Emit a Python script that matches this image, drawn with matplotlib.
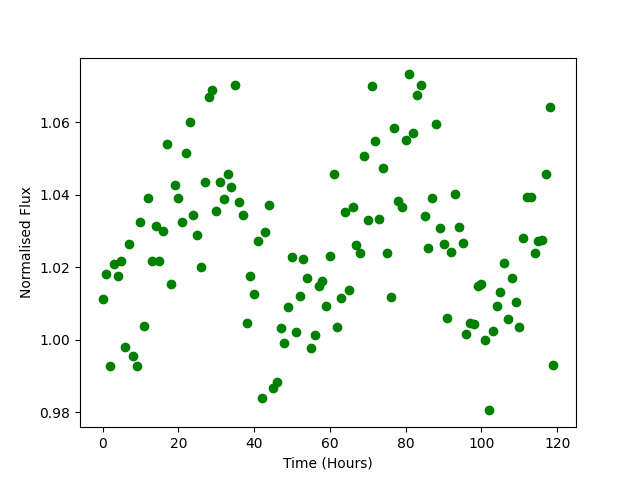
import numpy as np
import matplotlib
matplotlib.use("Agg")
import matplotlib.pyplot as plt

# time in hours
hours = np.arange(120)

# normalised flux
flux = [
    1.0111, 1.0180, 0.9927, 1.0210, 1.0177, 1.0217, 0.9981, 1.0265, 0.9956, 0.9927,
    1.0326, 1.0039, 1.0392, 1.0217, 1.0313, 1.0217, 1.0301, 1.0541, 1.0153, 1.0428,
    1.0392, 1.0326, 1.0514, 1.0602, 1.0343, 1.0290, 1.0202, 1.0434, 1.0671, 1.0690,
    1.0354, 1.0434, 1.0387, 1.0456, 1.0420, 1.0704, 1.0381, 1.0345, 1.0045, 1.0177,
    1.0127, 1.0271, 0.9838, 1.0296, 1.0373, 0.9868, 0.9882, 1.0031, 0.9990, 1.0089,
    1.0227, 1.0020, 1.0122, 1.0224, 1.0169, 0.9976, 1.0014, 1.0148, 1.0163, 1.0094,
    1.0232, 1.0458, 1.0036, 1.0116, 1.0351, 1.0138, 1.0367, 1.0260, 1.0238, 1.0508,
    1.0329, 1.0701, 1.0547, 1.0334, 1.0475, 1.0238, 1.0119, 1.0585, 1.0384, 1.0367,
    1.0552, 1.0732, 1.0569, 1.0674, 1.0704, 1.0340, 1.0252, 1.0392, 1.0594, 1.0307,
    1.0265, 1.0061, 1.0243, 1.0401, 1.0312, 1.0268, 1.0017, 1.0045, 1.0042, 1.0147,
    1.0155, 0.9998, 0.9805, 1.0023, 1.0092, 1.0133, 1.0213, 1.0056, 1.0169, 1.0103,
    1.0036, 1.0282, 1.0395, 1.0395, 1.0238, 1.0271, 1.0274, 1.0458, 1.0643, 0.9929,
]

fig, ax = plt.subplots(figsize=(6.4, 4.8), dpi=100)
ax.plot(hours, flux, 'go')
ax.set_xlabel("Time (Hours)")
ax.set_ylabel("Normalised Flux")

plt.savefig("out.png")
